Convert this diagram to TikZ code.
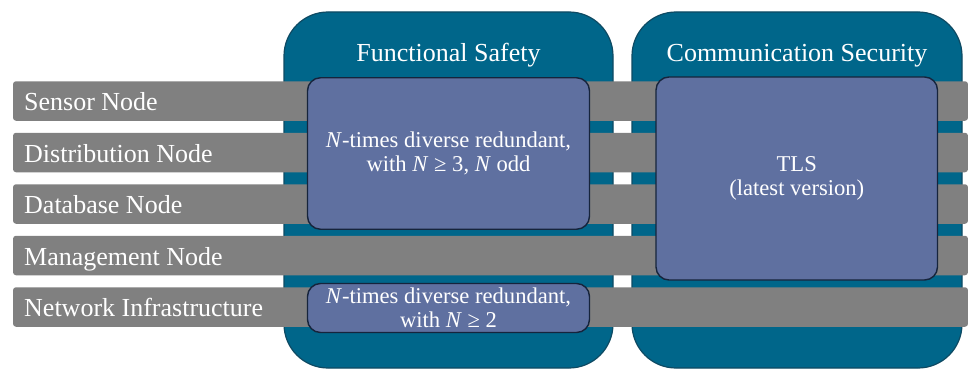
\documentclass[tikz,border=0pt]{standalone}
\usepackage{fontspec}
\setmainfont{Liberation Serif}

\definecolor{pillarfill}{HTML}{00668A}
\definecolor{pillarline}{HTML}{0E4A63}
\definecolor{barfill}{HTML}{808080}
\definecolor{measurefill}{HTML}{5F70A0}
\definecolor{measureline}{HTML}{16243C}

\tikzset{
  pillar/.style={draw=pillarline, line width=1.2pt, fill=pillarfill,
    rounded corners=44pt, inner sep=0pt},
  layerbar/.style={fill=barfill, rounded corners=3pt, inner sep=0pt,
    minimum width=955pt, minimum height=39.5pt},
  layerlabel/.style={text=white, inner sep=0pt,
    font=\fontsize{26}{30}\selectfont},
  pillartitle/.style={text=white, inner sep=0pt,
    font=\fontsize{26}{30}\selectfont},
  measure/.style={draw=measureline, line width=1.4pt, fill=measurefill,
    rounded corners=13pt, inner sep=0pt, align=center, text=white,
    font=\fontsize{22.6}{23.5}\selectfont},
}

\begin{document}
\begin{tikzpicture}[x=1pt, y=-1pt]
\useasboundingbox (0,0) rectangle (968,369);
\fill[white] (0,0) rectangle (968,369);

% the two pillars
\node[pillar, minimum width=329pt, minimum height=356pt] (fs) at (448.5,190) {};
\node[pillar, minimum width=330pt, minimum height=356pt] (cs) at (797,190) {};
\node[pillartitle, anchor=base] (fstitle) at (448.5,62) {Functional Safety};
\node[pillartitle, anchor=base] (cstitle) at (797,62) {Communication Security};

% system layers
\node[layerbar] (sensor) at (490.5,101) {};
\node[layerbar] (distribution) at (490.5,152.5) {};
\node[layerbar] (database) at (490.5,204) {};
\node[layerbar] (management) at (490.5,255.5) {};
\node[layerbar] (network) at (490.5,307) {};

\node[layerlabel, anchor=base west] (sensorlabel) at (24,110.5) {Sensor Node};
\node[layerlabel, anchor=base west] (distributionlabel) at (24,162) {Distribution Node};
\node[layerlabel, anchor=base west] (databaselabel) at (24,213.5) {Database Node};
\node[layerlabel, anchor=base west] (managementlabel) at (24,265) {Management Node};
\node[layerlabel, anchor=base west] (networklabel) at (24,316.5) {Network Infrastructure};

% measures
\node[measure, minimum width=282pt, minimum height=151.5pt] (redundant) at (448.5,153.5)
  {\textit{N}-times diverse redundant,\\ with \textit{N} ≥ 3, \textit{N} odd};
\node[measure, minimum width=282pt, minimum height=49pt] (netredundant) at (448.5,308)
  {\textit{N}-times diverse redundant,\\ with \textit{N} ≥ 2};
\node[measure, minimum width=281.5pt, minimum height=203pt] (tls) at (796.75,178.5)
  {TLS\\ (latest version)};
\end{tikzpicture}
\end{document}
